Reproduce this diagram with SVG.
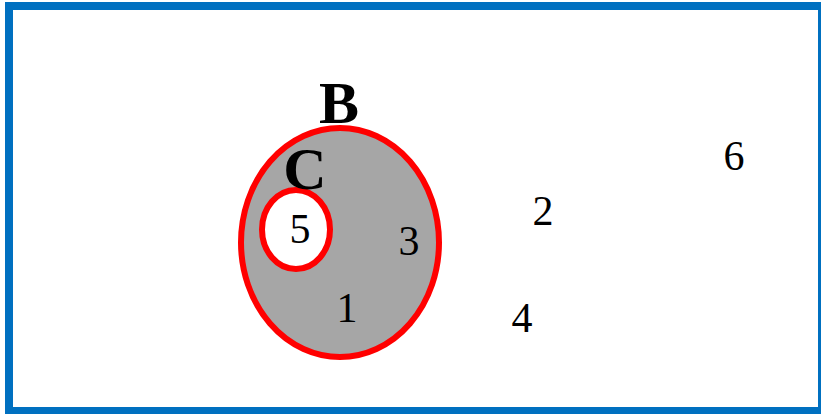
<svg xmlns="http://www.w3.org/2000/svg" width="821" height="414" viewBox="0 0 821 414">
<style>
.num{font-family:"Liberation Serif","Times New Roman",serif;font-size:42px;fill:#000;text-anchor:middle}
.lbl{font-family:"Liberation Serif","Times New Roman",serif;font-size:60px;font-weight:bold;fill:#000;text-anchor:middle}
.set{stroke:#ff0000;stroke-width:6}
</style>
<rect x="0" y="0" width="821" height="414" fill="#ffffff"/>
<rect x="9" y="6" width="813" height="405" fill="none" stroke="#0070c0" stroke-width="8"/>
<g id="B">
<ellipse class="set" cx="340" cy="242.5" rx="99" ry="114.5" fill="#a6a6a6"/>
<text class="lbl" x="339" y="123">B</text>
</g>
<g id="C">
<ellipse class="set" cx="296" cy="229.5" rx="34" ry="39.5" fill="#ffffff"/>
<text class="lbl" x="305" y="189">C</text>
</g>
<g id="elements">
<text class="num" x="300" y="243">5</text>
<text class="num" x="409" y="255">3</text>
<text class="num" x="347" y="322">1</text>
<text class="num" x="734" y="170">6</text>
<text class="num" x="543" y="225">2</text>
<text class="num" x="522" y="332">4</text>
</g>
<g id="connectors"></g>
</svg>
